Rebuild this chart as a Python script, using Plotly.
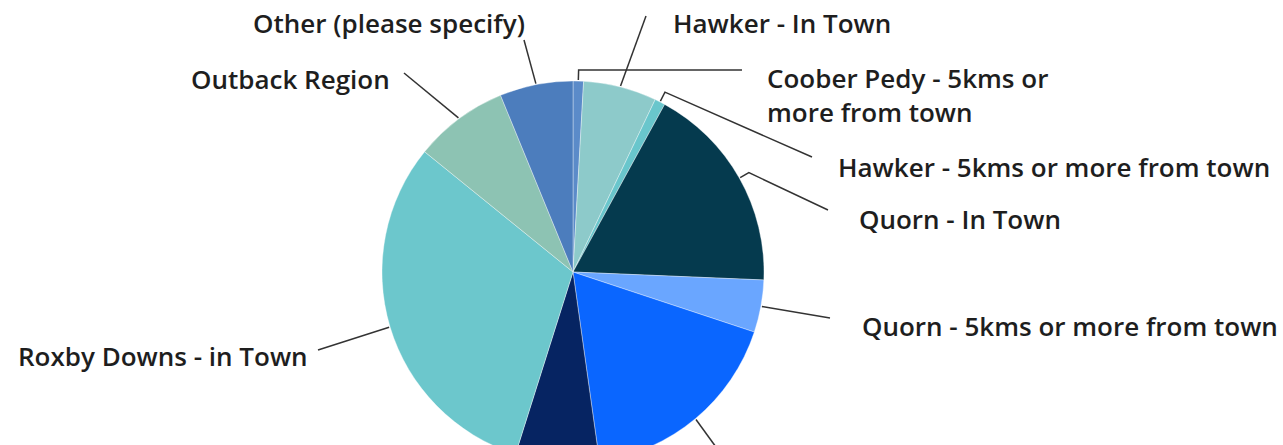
import math
import plotly.graph_objects as go

# Survey responses by location (clockwise from 12 o'clock)
locations = [
    "Coober Pedy - 5kms or<br>more from town",
    "Hawker - In Town",
    "Hawker - 5kms or more from town",
    "Quorn - In Town",
    "Quorn - 5kms or more from town",
    "Coober Pedy - In Town",
    "Roxby Downs - 5kms or more from town",
    "Roxby Downs - in Town",
    "Outback Region",
    "Other (please specify)",
]
responses = [1, 7, 1, 20, 5, 20, 8, 35, 9, 7]
slice_colors = [
    "#5b8bc9", "#8dcaca", "#69c6cc", "#053a4e", "#6aa6ff",
    "#0a66ff", "#062462", "#6cc7cc", "#8dc3b3", "#4c7dbd",
]

# Page geometry (pixels); the lower part of the pie runs past the visible page
W, H = 1283, 520
CX, CY, R = 573.0, 272.0, 191.0

# Label placement: (x, y, xanchor, leader end x, leader end y, elbow)
# Entries with y = None have their label below the visible page.
label_layout = [
    (765, 95, "left", 742, 70, True),
    (671, 23, "left", 646, 16, False),
    (836, 167, "left", 812, 157, True),
    (857, 219, "left", 828, 210, True),
    (860, 326, "left", 830, 318, False),
    (760, None, "left", 745, 487, False),
    (560, None, "left", 575, 490, False),
    (310, 356, "right", 318, 350, False),
    (392, 79, "right", 404, 73, False),
    (527, 23, "right", 524, 40, False),
]


def px(x):
    return x / W


def py(y):
    return 1 - y / H


fig = go.Figure(
    go.Pie(
        labels=locations,
        values=responses,
        sort=False,
        direction="clockwise",
        rotation=0,
        textinfo="none",
        hoverinfo="label+value+percent",
        marker=dict(colors=slice_colors, line=dict(color="rgba(255,255,255,0.6)", width=0.6)),
        domain=dict(x=[px(CX - R), px(CX + R)], y=[py(CY + R), py(CY - R)]),
        showlegend=False,
    )
)

total = sum(responses)
start = 0.0
shapes, annotations = [], []
for name, val, (lx, ly, anchor, ex, ey, elbow) in zip(locations, responses, label_layout):
    sweep = 360.0 * val / total
    mid = math.radians(start + sweep / 2)
    start += sweep
    x0 = CX + (R + 1) * math.sin(mid)
    y0 = CY - (R + 1) * math.cos(mid)
    pts = [(x0, y0)]
    if elbow:
        pts.append((CX + (R + 11) * math.sin(mid), CY - (R + 11) * math.cos(mid)))
    pts.append((ex, ey))
    path = "M " + " L ".join(f"{px(a):.5f},{py(b):.5f}" for a, b in pts)
    shapes.append(dict(type="path", path=path, xref="paper", yref="paper",
                       line=dict(color="#333333", width=1.5)))
    if ly is None:
        continue
    annotations.append(dict(
        x=px(lx), y=py(ly), xref="paper", yref="paper",
        text=name, showarrow=False, xanchor=anchor, yanchor="middle", align="left",
        font=dict(family="Open Sans, sans-serif", size=26, color="#1e1e1e", weight=600),
    ))

fig.update_layout(
    width=W, height=H,
    margin=dict(l=0, r=0, t=0, b=0),
    paper_bgcolor="white", plot_bgcolor="white",
    shapes=shapes, annotations=annotations,
)

fig.write_html(
    "out.html",
    post_script="document.documentElement.style.overflow='hidden';"
                "document.body.style.overflow='hidden';document.body.style.margin='0';",
)
